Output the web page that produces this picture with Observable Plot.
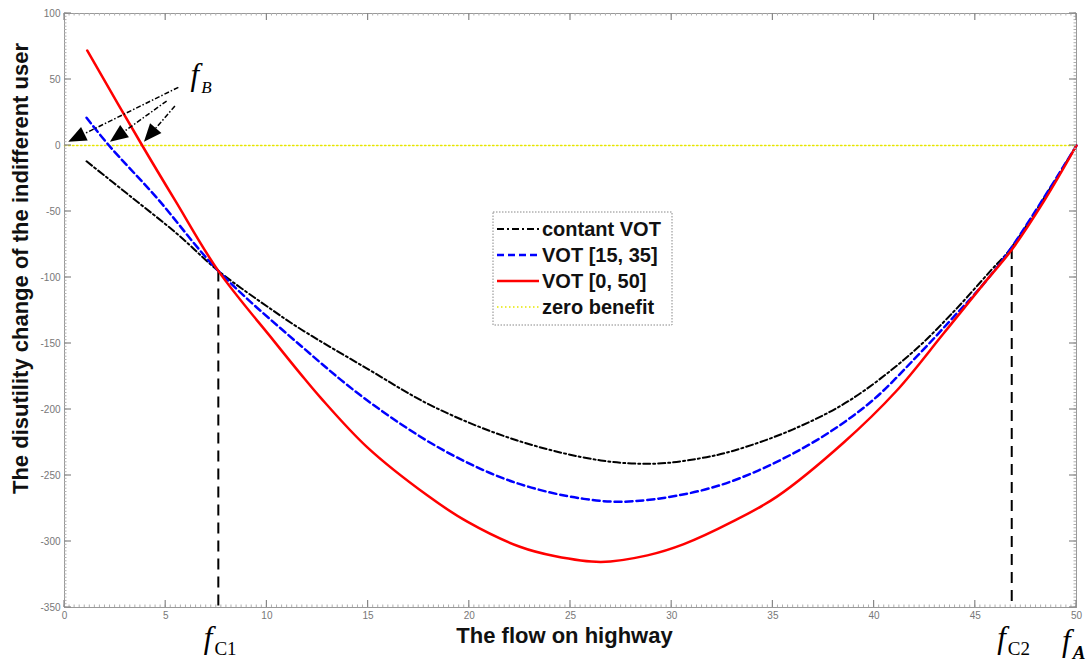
<!DOCTYPE html>
<html><head><meta charset="utf-8">
<script src="https://cdn.jsdelivr.net/npm/d3@7"></script>
<script src="https://cdn.jsdelivr.net/npm/@observablehq/plot@0.6"></script>
<style>body{margin:0;background:#fff}#chart svg{display:block}</style>
</head><body><div id="chart"></div>
<script>
// ---- data ----
const seriesNames = ["contant VOT", "VOT [15, 35]", "VOT [0, 50]", "zero benefit"];

const constX = [1.09, 3.3, 5.57, 7.6, 10.3, 11.66, 14.95, 18.25, 22.37, 26.5, 29.2, 31.4, 33.1, 36.0, 38.8, 41.8, 43.8, 45.75, 46.8, 50];
const constY = [-12, -39, -67, -95, -125, -139, -169, -198, -223.5, -238.6, -241, -237, -231, -215, -193, -158, -128, -95, -77, 0];

const vot1535X = [1.09, 2.2, 4.58, 7.6, 11.66, 14.95, 18.74, 22.2, 25.66, 28.1, 32.25, 36.4, 39.7, 42.1, 43.8, 45.4, 46.8, 50];
const vot1535Y = [21, 0, -40, -95, -151.5, -193, -231, -255, -267.7, -269.5, -258, -230, -196, -160, -132, -105, -77, 0];

const vot050X = [1.12, 3.84, 5.48, 7.6, 10.34, 11.66, 12.65, 14.95, 17.92, 19.9, 22.5, 24.2, 26.5, 28.8, 30.6, 33.0, 35.2, 38.5, 41.1, 43.4, 45.4, 46.8, 48.4, 50];
const vot050Y = [72, 0, -42, -95, -148, -173, -191, -228.5, -265, -285, -304, -311, -315.5, -310.5, -302, -285, -266, -225, -186, -143, -105, -79, -42, 0];

const zeroX = [0, 50];
const zeroY = [0, 0];

const xTicks = [0, 5, 10, 15, 20, 25, 30, 35, 40, 45, 50];
const yTicks = [-350, -300, -250, -200, -150, -100, -50, 0, 50, 100];

// critical flows f_C1, f_C2 and where the curves cross there
const critX = [7.6, 46.8];
const critY = [-95, -78];
const critNames = ["C1", "C2"];
const fAx = 50;

// arrows from the f_B label to the zero crossings
const arrowFromX = [5.65, 5.07, 5.48];
const arrowFromY = [43.7, 33.3, 29.5];
const arrowToX = [0.21, 2.27, 3.95];
const arrowToY = [2.5, 2.5, 2.5];
const fBx = 6.25, fBy = 42;

const xLabel = "The flow on highway";
const yLabel = "The disutility change of the indifferent user";

// ---- tables ----
const rows = (xs, ys) => xs.map((x, i) => ({x, y: ys[i]}));
const constRows = rows(constX, constY);
const midRows = rows(vot1535X, vot1535Y);
const wideRows = rows(vot050X, vot050Y);
const zeroRows = rows(zeroX, zeroY);
const critRows = critX.map((x, i) => ({x, y: critY[i]}));
const arrowRows = arrowFromX.map((x, i) => ({x1: x, y1: arrowFromY[i], x2: arrowToX[i], y2: arrowToY[i]}));

const styles = [
  {stroke: "#000000", strokeWidth: 2, dash: "7,3,2,3"},
  {stroke: "#0000ff", strokeWidth: 2.5, dash: "7,4"},
  {stroke: "#ff0000", strokeWidth: 2.5, dash: null},
  {stroke: "#e6e600", strokeWidth: 1.5, dash: "1.5,2.5"}
];

const chart = Plot.plot({
  width: 1092, height: 662,
  marginTop: 13, marginLeft: 64, marginRight: 16, marginBottom: 55,
  style: {fontFamily: "Liberation Sans, Arial, sans-serif", fontSize: "10px", color: "#777", background: "#fff"},
  x: {domain: [0, 50], ticks: xTicks, tickSize: 0, tickPadding: 4, label: null, tickFormat: d => String(d)},
  y: {domain: [-350, 100], ticks: yTicks, tickSize: 0, tickPadding: 4, label: null, tickFormat: d => String(d)},
  marks: [
    Plot.frame({stroke: "#999"}),
    Plot.line(zeroRows, {x: "x", y: "y", stroke: styles[3].stroke, strokeWidth: styles[3].strokeWidth, strokeDasharray: styles[3].dash}),
    Plot.ruleX(critRows, {x: "x", y1: "y", y2: yTicks[0], stroke: "#000", strokeWidth: 2, strokeDasharray: "11,7"}),
    Plot.line(constRows, {x: "x", y: "y", curve: "catmull-rom", stroke: styles[0].stroke, strokeWidth: styles[0].strokeWidth, strokeDasharray: styles[0].dash}),
    Plot.line(midRows, {x: "x", y: "y", curve: "catmull-rom", stroke: styles[1].stroke, strokeWidth: styles[1].strokeWidth, strokeDasharray: styles[1].dash}),
    Plot.line(wideRows, {x: "x", y: "y", curve: "catmull-rom", stroke: styles[2].stroke, strokeWidth: styles[2].strokeWidth}),
    Plot.text([xLabel], {text: d => d, frameAnchor: "bottom", lineAnchor: "middle", textAnchor: "middle", dy: 28, dx: -6, fontSize: 22, fontWeight: "bold", fill: "#111"}),
    Plot.text([yLabel], {text: d => d, frameAnchor: "left", lineAnchor: "middle", textAnchor: "middle", dx: -44, dy: -42, rotate: -90, fontSize: 22, fontWeight: "bold", fill: "#111"})
  ]
});
document.getElementById("chart").appendChild(chart);

// ---- decorations positioned through Plot's scales ----
const svg = d3.select(chart);
const X = chart.scale("x"), Y = chart.scale("y");
const sx = v => X.apply(v), sy = v => Y.apply(v);
const x0 = sx(0), x1 = sx(50), yb = sy(-350), yt = sy(100);

// minor (dotted-looking) ticks along the box
const minor = svg.append("g").attr("stroke", "#b0b0b0").attr("stroke-width", 1);
d3.range(0, 50.001, 0.25).forEach(v => {
  const p = sx(v);
  minor.append("line").attr("x1", p).attr("x2", p).attr("y1", yb).attr("y2", yb - 2.5);
  minor.append("line").attr("x1", p).attr("x2", p).attr("y1", yt).attr("y2", yt + 2.5);
});
d3.range(-350, 100.001, 2.5).forEach(v => {
  const p = sy(v);
  minor.append("line").attr("y1", p).attr("y2", p).attr("x1", x0).attr("x2", x0 + 2.5);
  minor.append("line").attr("y1", p).attr("y2", p).attr("x1", x1).attr("x2", x1 - 2.5);
});
// major inward ticks
const major = svg.append("g").attr("stroke", "#888").attr("stroke-width", 1.2);
xTicks.forEach(v => {
  const p = sx(v);
  major.append("line").attr("x1", p).attr("x2", p).attr("y1", yb).attr("y2", yb - 7);
  major.append("line").attr("x1", p).attr("x2", p).attr("y1", yt).attr("y2", yt + 7);
});
yTicks.forEach(v => {
  const p = sy(v);
  major.append("line").attr("y1", p).attr("y2", p).attr("x1", x0).attr("x2", x0 + 7);
  major.append("line").attr("y1", p).attr("y2", p).attr("x1", x1).attr("x2", x1 - 7);
});

// arrows to f_B crossings
const arr = svg.append("g");
arrowRows.forEach(a => {
  const px1 = sx(a.x1), py1 = sy(a.y1), px2 = sx(a.x2), py2 = sy(a.y2);
  const dx = px2 - px1, dy = py2 - py1, L = Math.hypot(dx, dy);
  const ux = dx / L, uy = dy / L, hl = 18, hw = 7.5;
  const bx = px2 - ux * hl, by = py2 - uy * hl;
  arr.append("line").attr("x1", px1).attr("y1", py1).attr("x2", bx).attr("y2", by)
    .attr("stroke", "#000").attr("stroke-width", 1.5).attr("stroke-dasharray", "5,2,1.5,2");
  arr.append("polygon")
    .attr("points", [[px2, py2], [bx - uy * hw, by + ux * hw], [bx + uy * hw, by - ux * hw]].map(p => p.join(",")).join(" "))
    .attr("fill", "#000");
});

// f labels
function fLabel(px, py, sub, subDy, subStyle) {
  const t = svg.append("text").attr("x", px).attr("y", py).attr("text-anchor", "start")
    .attr("font-family", "Liberation Serif, Times New Roman, serif").attr("fill", "#000");
  t.append("tspan").attr("font-size", 31).attr("font-style", "italic").text("f");
  const s = t.append("tspan").attr("font-size", subStyle.size).attr("dy", subDy).attr("dx", 2).text(sub);
  if (subStyle.italic) s.attr("font-style", "italic");
  if (subStyle.bold) s.attr("font-weight", "bold");
}
fLabel(sx(fBx), sy(fBy) - 5, "B", 8, {size: 17, italic: true});
critX.forEach((v, i) => fLabel(sx(v) - 14, 648, critNames[i], 7, {size: 19}));
fLabel(sx(fAx) - 14, 651, "A", 8, {size: 19, italic: true, bold: true});

// legend
const lg = svg.append("g").attr("font-family", "Liberation Sans, Arial, sans-serif").attr("text-anchor", "start");
lg.append("rect").attr("x", 493).attr("y", 212).attr("width", 179).attr("height", 113)
  .attr("fill", "#fff").attr("stroke", "#888").attr("stroke-dasharray", "1.5,1.5");
seriesNames.forEach((name, i) => {
  const cy = 229 + i * 26;
  const st = styles[i];
  const l = lg.append("line").attr("x1", 497).attr("x2", 539).attr("y1", cy).attr("y2", cy)
    .attr("stroke", st.stroke).attr("stroke-width", st.strokeWidth);
  if (st.dash) l.attr("stroke-dasharray", st.dash);
  lg.append("text").attr("x", 542).attr("y", cy).attr("dy", "0.35em").attr("text-anchor", "start")
    .attr("font-size", 20).attr("font-weight", "bold").attr("fill", "#111").text(name);
});
</script>
</body></html>
